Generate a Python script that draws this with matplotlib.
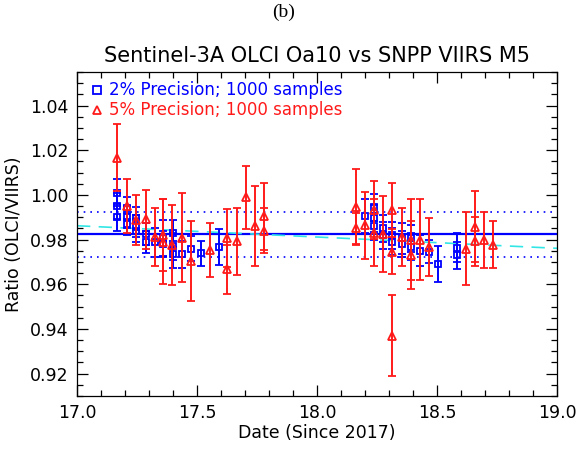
import matplotlib
matplotlib.use("Agg")
import matplotlib.pyplot as plt
from matplotlib.ticker import MultipleLocator, FormatStrFormatter

# ── Data ──────────────────────────────────────────────────────────────────────

# 2% precision, 1000 samples (blue squares)
blue_x = [17.168, 17.168, 17.168, 17.210, 17.210, 17.210, 17.246, 17.246, 17.246,
          17.286, 17.286, 17.325, 17.360, 17.360, 17.398, 17.398, 17.398, 17.436,
          17.474, 17.515, 17.592,
          18.201, 18.239, 18.239, 18.239, 18.276, 18.276, 18.314, 18.314, 18.353,
          18.353, 18.392, 18.392, 18.429, 18.467, 18.506, 18.582, 18.582]
blue_y = [1.001, 0.995, 0.990, 0.994, 0.990, 0.987, 0.9895, 0.986, 0.984,
          0.9825, 0.979, 0.9788, 0.9806, 0.978, 0.9828, 0.977, 0.9735, 0.9735,
          0.9758, 0.9738, 0.9768,
          0.9907, 0.9944, 0.9895, 0.986, 0.985, 0.982, 0.982, 0.979, 0.9806,
          0.978, 0.9806, 0.9768, 0.975, 0.9746, 0.969, 0.9764, 0.973]
blue_err = [0.006, 0.006, 0.006, 0.005, 0.005, 0.005, 0.005, 0.005, 0.005,
            0.005, 0.005, 0.0066, 0.008, 0.006, 0.006, 0.006, 0.006, 0.006,
            0.0056, 0.0054, 0.008,
            0.0076, 0.006, 0.006, 0.006, 0.006, 0.006, 0.006, 0.006, 0.007,
            0.006, 0.006, 0.006, 0.007, 0.005, 0.008, 0.0065, 0.006]

# 5% precision, 1000 samples (red triangles)
red_x = [17.168, 17.210, 17.246, 17.286, 17.325, 17.360, 17.360, 17.395, 17.436,
         17.474, 17.554, 17.626, 17.626, 17.665, 17.703, 17.742, 17.780, 17.780,
         18.162, 18.162, 18.201, 18.239, 18.239, 18.276, 18.314, 18.314, 18.314,
         18.353, 18.392, 18.392, 18.429, 18.467, 18.621, 18.658, 18.658, 18.696,
         18.735]
red_y = [1.0166, 0.995, 0.9888, 0.989, 0.981, 0.982, 0.979, 0.9775, 0.9808,
         0.9705, 0.9753, 0.9806, 0.9668, 0.9793, 0.9989, 0.9861, 0.9905, 0.984,
         0.9944, 0.985, 0.9865, 0.9932, 0.983, 0.9825, 0.9932, 0.9746, 0.937,
         0.981, 0.9731, 0.980, 0.980, 0.9768, 0.976, 0.9858, 0.9793, 0.980,
         0.9776]
red_err = [0.015, 0.012, 0.011, 0.013, 0.013, 0.016, 0.019, 0.018, 0.020,
           0.018, 0.012, 0.013, 0.011, 0.015, 0.014, 0.018, 0.015, 0.010,
           0.017, 0.007, 0.015, 0.013, 0.015, 0.017, 0.012, 0.010, 0.018,
           0.013, 0.015, 0.018, 0.018, 0.013, 0.0165, 0.016, 0.011, 0.0125,
           0.0105]

mean_ratio = 0.9824
band = 0.010
trend_x = [17.0, 19.0]
trend_y = [0.9862, 0.9761]

# ── Figure ────────────────────────────────────────────────────────────────────

plt.rcParams["font.family"] = ["DejaVu Sans"]
fig = plt.figure(figsize=(5.79, 4.54), dpi=100)
ax = fig.add_axes([77 / 579, 58 / 454, 480 / 579, 324 / 454])

ax.axhline(mean_ratio, color="#0000ff", linewidth=1.6, zorder=1)
ax.axhline(mean_ratio + band, color="#0000ff", linewidth=1.2, linestyle=(0, (1, 3)), zorder=1)
ax.axhline(mean_ratio - band, color="#0000ff", linewidth=1.2, linestyle=(0, (1, 3)), zorder=1)
ax.plot(trend_x, trend_y, color="#33e6e6", linewidth=1.2, linestyle=(0, (8, 5)), zorder=1)

ax.errorbar(blue_x, blue_y, yerr=blue_err, fmt="s", ms=5, mfc="none", mec="#0000ff",
            mew=1.3, ecolor="#0000ff", elinewidth=1.4, capsize=3, capthick=1.4, zorder=3)
ax.errorbar(red_x, red_y, yerr=red_err, fmt="^", ms=6, mfc="none", mec="#ff1a1a",
            mew=1.3, ecolor="#ff1a1a", elinewidth=1.4, capsize=3, capthick=1.4, zorder=4)

# legend drawn as text rows, like the IDL original
ax.plot([0.042], [0.944], "s", ms=6, mfc="none", mec="#0000ff", mew=1.3,
        transform=ax.transAxes, clip_on=False)
ax.text(0.066, 0.944, "2% Precision; 1000 samples", color="#0000ff", fontsize=12,
        transform=ax.transAxes, va="center")
ax.plot([0.042], [0.882], "^", ms=6, mfc="none", mec="#ff1a1a", mew=1.3,
        transform=ax.transAxes, clip_on=False)
ax.text(0.066, 0.882, "5% Precision; 1000 samples", color="#ff1a1a", fontsize=12,
        transform=ax.transAxes, va="center")

ax.set_xlim(17.0, 19.0)
ax.set_ylim(0.91, 1.055)
ax.xaxis.set_major_locator(MultipleLocator(0.5))
ax.xaxis.set_minor_locator(MultipleLocator(0.1))
ax.yaxis.set_major_locator(MultipleLocator(0.02))
ax.yaxis.set_minor_locator(MultipleLocator(0.005))
ax.xaxis.set_major_formatter(FormatStrFormatter("%.1f"))
ax.yaxis.set_major_formatter(FormatStrFormatter("%.2f"))
ax.tick_params(which="both", direction="in", top=True, right=True, labelsize=12.5, pad=6)
ax.tick_params(which="major", length=8, width=0.9)
ax.tick_params(which="minor", length=4, width=0.9)
for s in ax.spines.values():
    s.set_linewidth(0.9)

ax.set_xlabel("Date (Since 2017)", fontsize=12.5, labelpad=1)
ax.set_ylabel("Ratio (OLCI/VIIRS)", fontsize=12.5, labelpad=5)
ax.set_title("Sentinel-3A OLCI Oa10 vs SNPP VIIRS M5", fontsize=15, pad=7)
fig.text(0.49, 0.972, "(b)", fontsize=14, family="Liberation Serif", ha="center", va="center")

fig.savefig("out.png", dpi=100)
